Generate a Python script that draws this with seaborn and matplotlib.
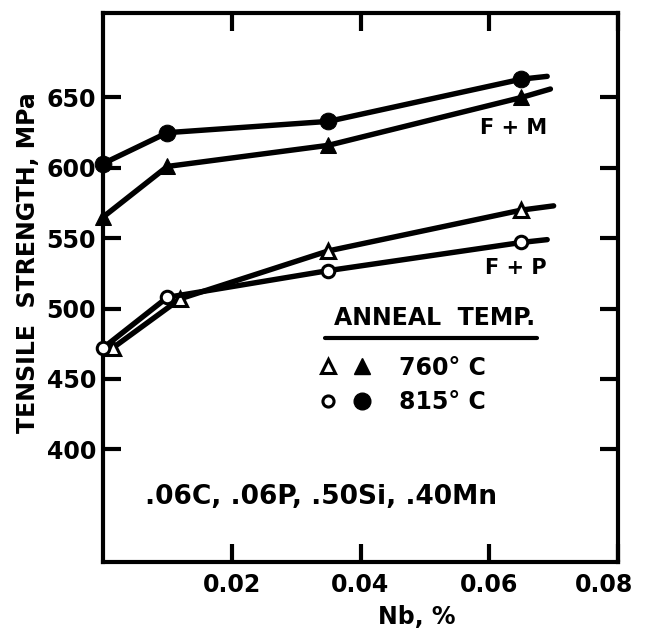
import matplotlib
matplotlib.use("Agg")
import matplotlib.pyplot as plt
from matplotlib.lines import Line2D
from matplotlib.legend_handler import HandlerTuple
from matplotlib.transforms import ScaledTranslation
import seaborn as sns
import pandas as pd

# Tensile strength (MPa) versus Nb content (%); last point of each series is the
# unmarked end of the drawn trend line.
nb_fm_760 = [0.0, 0.010, 0.035, 0.065, 0.0695]
ts_fm_760 = [565, 601, 616, 650, 656]

nb_fm_815 = [0.0, 0.010, 0.035, 0.065, 0.069]
ts_fm_815 = [603, 625, 633, 663, 665]

nb_fp_760 = [0.0015, 0.012, 0.035, 0.065, 0.070]
ts_fp_760 = [472, 507, 541, 570, 573]

nb_fp_815 = [0.0, 0.010, 0.035, 0.065, 0.069]
ts_fp_815 = [472, 508, 527, 547, 549]

x_ticks = [0.02, 0.04, 0.06, 0.08]
x_tick_labels = ["0.02", "0.04", "0.06", "0.08"]
y_ticks = [400, 450, 500, 550, 600, 650]
y_tick_labels = ["400", "450", "500", "550", "600", "650"]

sns.set_theme(style="ticks")
plt.rcParams["font.family"] = ["DejaVu Sans"]
plt.rcParams["font.weight"] = "bold"
plt.rcParams["text.color"] = "black"
plt.rcParams["axes.labelcolor"] = "black"

fig = plt.figure(figsize=(6.45, 6.29), dpi=100)
ax = fig.add_axes([103 / 645, 1 - 562 / 629, 515 / 645, 549 / 629])

LW = 3.9
series = [
    (nb_fm_760, ts_fm_760, dict(marker="^", markersize=12, markerfacecolor="black",
                                markeredgecolor="black")),
    (nb_fm_815, ts_fm_815, dict(marker="o", markersize=12, markerfacecolor="black",
                                markeredgecolor="black")),
    (nb_fp_760, ts_fp_760, dict(marker="^", markersize=10, markerfacecolor="white",
                                markeredgecolor="black", markeredgewidth=2.2)),
    (nb_fp_815, ts_fp_815, dict(marker="o", markersize=9, markerfacecolor="white",
                                markeredgecolor="black", markeredgewidth=2.2)),
]
for xs, ys, style in series:
    df = pd.DataFrame({"nb": xs, "ts": ys})
    sns.lineplot(data=df, x="nb", y="ts", ax=ax, sort=False, color="black",
                 linewidth=LW, markevery=list(range(len(xs) - 1)),
                 solid_capstyle="round", zorder=3, clip_on=False, **style)

ax.set_xlim(0, 0.08)
ax.set_ylim(320, 710)
ax.set_xticks(x_ticks)
ax.set_xticklabels(x_tick_labels)
ax.set_yticks(y_ticks)
ax.set_yticklabels(y_tick_labels)

for side in ["left", "right", "top", "bottom"]:
    ax.spines[side].set_visible(True)
    ax.spines[side].set_linewidth(3)
    ax.spines[side].set_color("black")

ax.tick_params(axis="both", direction="in", length=13, width=3, color="black",
               labelsize=17, labelcolor="black")
ax.tick_params(axis="x", top=True, pad=8)
ax.tick_params(axis="y", right=True, pad=5)

# pull the corner label in so it stays on the canvas
last = ax.get_xticklabels()[-1]
last.set_transform(last.get_transform() + ScaledTranslation(-10 / 72, 0, fig.dpi_scale_trans))

ax.set_xlabel("Nb, %", fontsize=17, fontweight="bold")
ax.xaxis.set_label_coords(0.61, -0.078)
ax.set_ylabel("TENSILE  STRENGTH, MPa", fontsize=17, fontweight="bold")
ax.yaxis.set_label_coords(-0.122, 0.546)

# Microstructure labels
ax.text(0.0637, 628, "F + M", fontsize=15, fontweight="bold", ha="center", va="center")
ax.text(0.0642, 529, "F + P", fontsize=15, fontweight="bold", ha="center", va="center")

# Alloy composition
ax.text(0.0065, 366, ".06C, .06P, .50Si, .40Mn", fontsize=19, fontweight="bold",
        ha="left", va="center")

# Legend for anneal temperature
ax.text((435 - 103) / 515, (562 - 318) / 549, "ANNEAL  TEMP.",
        transform=ax.transAxes, fontsize=17, fontweight="bold", ha="center", va="center")
ax.add_line(Line2D([(325 - 103) / 515, (537 - 103) / 515],
                   [(562 - 338) / 549, (562 - 338) / 549],
                   transform=ax.transAxes, color="black", linewidth=3))

open_tri = Line2D([], [], linestyle="none", marker="^", markersize=10,
                  markerfacecolor="white", markeredgecolor="black", markeredgewidth=2.2)
full_tri = Line2D([], [], linestyle="none", marker="^", markersize=12, color="black")
open_circ = Line2D([], [], linestyle="none", marker="o", markersize=8,
                   markerfacecolor="white", markeredgecolor="black", markeredgewidth=2.2)
full_circ = Line2D([], [], linestyle="none", marker="o", markersize=12, color="black")
leg = ax.legend([(open_tri, full_tri), (open_circ, full_circ)],
                ["760° C", "815° C"],
                handler_map={tuple: HandlerTuple(ndivide=None, pad=0.6)},
                loc="center left", bbox_to_anchor=((319 - 103) / 515, (562 - 385) / 549),
                frameon=False, fontsize=17, handlelength=2.2, handletextpad=1.2,
                labelspacing=0.45, borderpad=0, borderaxespad=0)
for t in leg.get_texts():
    t.set_fontweight("bold")
    t.set_color("black")

fig.savefig("out.png", dpi=100)
